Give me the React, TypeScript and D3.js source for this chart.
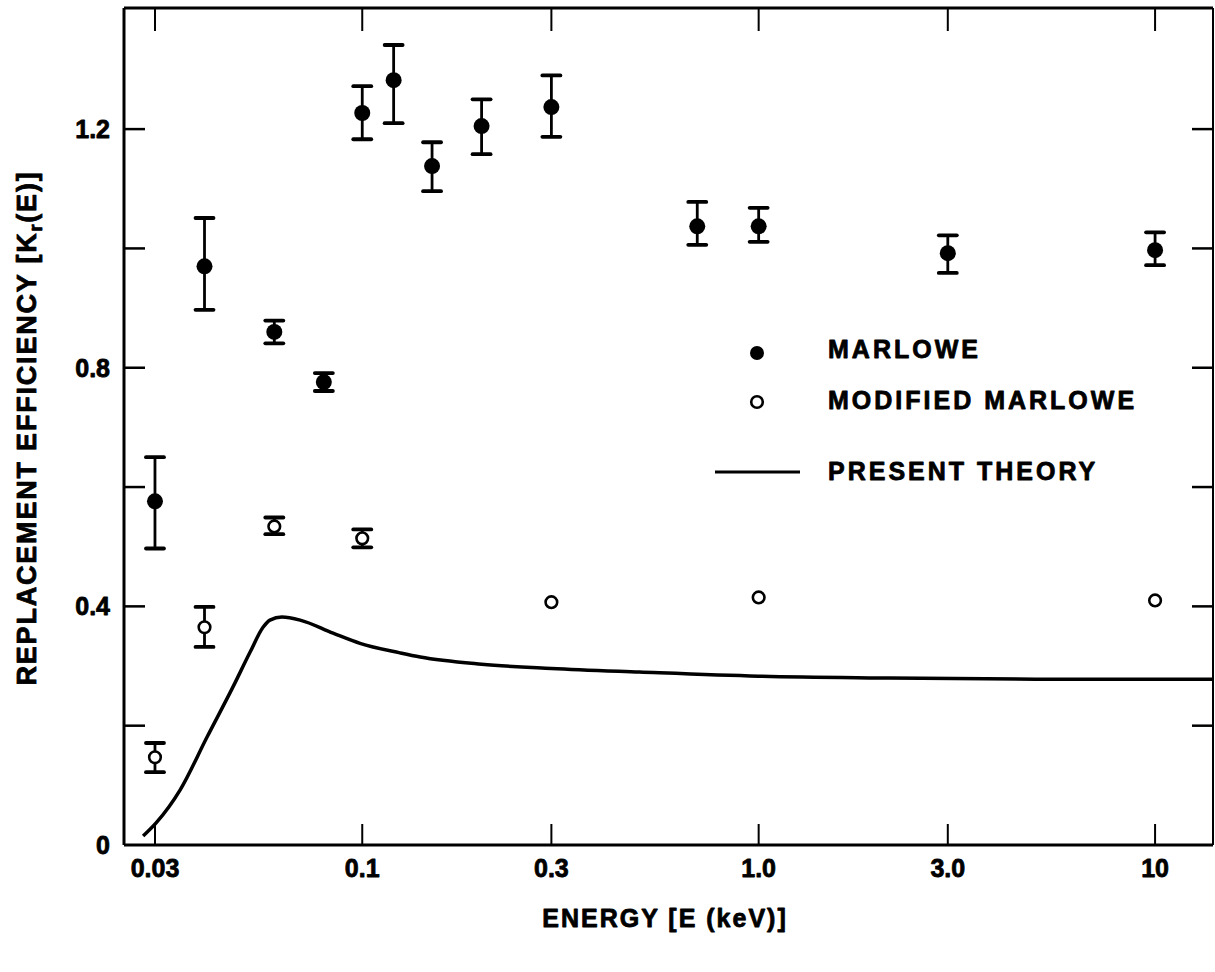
import React from "react";
import * as d3 from "d3";

// Canvas and plot frame
const W = 1215;
const H = 972;
const plot = { left: 124, right: 1213, top: 8, bottom: 845 };

// Axis domains (log energy, linear efficiency)
const energyDomain = [0.02506, 14.0];
const effDomain = [0, 1.403];

// Ticks
const energyTicks = [0.03, 0.1, 0.3, 1.0, 3.0, 10];
const energyTickLabels = ["0.03", "0.1", "0.3", "1.0", "3.0", "10"];
const effTicks = [0, 0.2, 0.4, 0.6, 0.8, 1.0, 1.2];
const effTickLabels = ["0", "", "0.4", "", "0.8", "", "1.2"];

// MARLOWE results with error-bar limits
const marloweEnergy = [0.03, 0.04, 0.06, 0.08, 0.1, 0.12, 0.15, 0.2, 0.3, 0.7, 1.0, 3.0, 10];
const marloweValue = [0.576, 0.97, 0.86, 0.776, 1.227, 1.282, 1.138, 1.205, 1.237, 1.037, 1.037, 0.992, 0.997];
const marloweUpper = [0.65, 1.051, 0.879, 0.791, 1.272, 1.341, 1.178, 1.25, 1.29, 1.078, 1.068, 1.022, 1.027];
const marloweLower = [0.497, 0.897, 0.841, 0.761, 1.183, 1.21, 1.096, 1.158, 1.187, 1.006, 1.011, 0.959, 0.972];

// Modified MARLOWE results (error bars only where given)
const modifiedEnergy = [0.03, 0.04, 0.06, 0.1, 0.3, 1.0, 10];
const modifiedValue = [0.147, 0.365, 0.534, 0.514, 0.407, 0.415, 0.41];
const modifiedUpper: (number | null)[] = [0.171, 0.399, 0.549, 0.529, null, null, null];
const modifiedLower: (number | null)[] = [0.122, 0.332, 0.521, 0.499, null, null, null];

// Present theory curve
const theoryEnergy = [0.028, 0.0302, 0.0347, 0.0406, 0.0472, 0.0521, 0.0562, 0.0585, 0.0627, 0.0697, 0.0844, 0.0987, 0.1245, 0.14, 0.2, 0.3, 0.5, 1.0, 2.0, 5.0, 10, 14.0];
const theoryValue = [0.015, 0.037, 0.092, 0.181, 0.265, 0.323, 0.365, 0.377, 0.382, 0.377, 0.355, 0.338, 0.322, 0.315, 0.303, 0.296, 0.29, 0.283, 0.28, 0.278, 0.278, 0.278];

const FONT = "'Liberation Sans', Arial, Helvetica, sans-serif";

export default function App() {
  const x = d3.scaleLog().domain(energyDomain).range([plot.left, plot.right]);
  const y = d3.scaleLinear().domain(effDomain).range([plot.bottom, plot.top]);

  const theory = theoryEnergy.map((e, i) => [x(e), y(theoryValue[i])] as [number, number]);
  const line = d3.line().curve(d3.curveMonotoneX)(theory) || "";

  const capHalf = 9;
  const tickLen = 21;

  const errorBar = (e: number, lo: number, hi: number, key: string) => {
    const cx = x(e);
    return (
      <g key={key}>
        <line x1={cx} x2={cx} y1={y(hi)} y2={y(lo)} stroke="#000" strokeWidth={2.8} />
        <line x1={cx - capHalf} x2={cx + capHalf} y1={y(hi)} y2={y(hi)} stroke="#000" strokeWidth={3.8} strokeLinecap="round" />
        <line x1={cx - capHalf} x2={cx + capHalf} y1={y(lo)} y2={y(lo)} stroke="#000" strokeWidth={3.8} strokeLinecap="round" />
      </g>
    );
  };

  return (
    <svg
      width={W}
      height={H}
      viewBox={`0 0 ${W} ${H}`}
      style={{ position: "absolute", left: 0, top: 0, display: "block", background: "#fff" }}
      fontFamily={FONT}
      fontWeight="bold"
    >
      <rect x={0} y={0} width={W} height={H} fill="#fff" />

      {/* Frame */}
      <line x1={plot.left} x2={plot.right} y1={plot.top} y2={plot.top} stroke="#000" strokeWidth={3} />
      <line x1={plot.left} x2={plot.right} y1={plot.bottom} y2={plot.bottom} stroke="#000" strokeWidth={3} />
      <line x1={plot.left} x2={plot.left} y1={plot.top} y2={plot.bottom} stroke="#000" strokeWidth={3} />
      <line x1={plot.right} x2={plot.right} y1={plot.top} y2={plot.bottom} stroke="#000" strokeWidth={2} />

      <g fill="#000" stroke="#000" strokeWidth={0.8} strokeLinejoin="round">
        {/* Energy tick labels */}
        {energyTicks.map((t, i) => (
          <text key={`el${i}`} x={x(t)} y={877} textAnchor="middle" fontSize={25}>
            {energyTickLabels[i]}
          </text>
        ))}
        {/* Efficiency tick labels */}
        {effTicks.map((t, i) =>
          effTickLabels[i] ? (
            <text key={`yl${i}`} x={110} y={y(t)} dy="0.36em" textAnchor="end" fontSize={25}>
              {effTickLabels[i]}
            </text>
          ) : null
        )}

        {/* Axis titles */}
        <text x={665} y={927} textAnchor="middle" fontSize={25} letterSpacing={2}>
          ENERGY [E (keV)]
        </text>
        <text transform={`translate(36, 428) rotate(-90)`} textAnchor="middle" fontSize={27} letterSpacing={1.8}>
          REPLACEMENT EFFICIENCY [K
          <tspan fontSize={18} dy={6}>r</tspan>
          <tspan dy={-6}>(E)]</tspan>
        </text>

        {/* Legend labels */}
        <g fontSize={25} letterSpacing={3}>
          <text x={828} y={358}>MARLOWE</text>
          <text x={828} y={409}>MODIFIED MARLOWE</text>
          <text x={828} y={480}>PRESENT THEORY</text>
        </g>
      </g>

      {/* Energy ticks, bottom and top */}
      {energyTicks.map((t, i) => (
        <g key={`et${i}`}>
          <line x1={x(t)} x2={x(t)} y1={plot.bottom} y2={plot.bottom - tickLen} stroke="#000" strokeWidth={2} />
          <line x1={x(t)} x2={x(t)} y1={plot.top} y2={plot.top + tickLen + 2} stroke="#000" strokeWidth={2} />
        </g>
      ))}

      {/* Efficiency ticks, left and right */}
      {effTicks.map((t, i) =>
        t > 0 ? (
          <g key={`yt${i}`}>
            <line x1={plot.left} x2={plot.left + tickLen} y1={y(t)} y2={y(t)} stroke="#000" strokeWidth={2.5} />
            <line x1={plot.right} x2={plot.right - tickLen} y1={y(t)} y2={y(t)} stroke="#000" strokeWidth={2.5} />
          </g>
        ) : null
      )}

      {/* Present theory */}
      <path d={line} fill="none" stroke="#000" strokeWidth={3.5} strokeLinejoin="round" />

      {/* Modified MARLOWE */}
      {modifiedEnergy.map((e, i) =>
        modifiedUpper[i] != null && modifiedLower[i] != null
          ? errorBar(e, modifiedLower[i] as number, modifiedUpper[i] as number, `me${i}`)
          : null
      )}
      {modifiedEnergy.map((e, i) => (
        <circle key={`mc${i}`} cx={x(e)} cy={y(modifiedValue[i])} r={5.8} fill="#fff" stroke="#000" strokeWidth={2.6} />
      ))}

      {/* MARLOWE */}
      {marloweEnergy.map((e, i) => errorBar(e, marloweLower[i], marloweUpper[i], `fe${i}`))}
      {marloweEnergy.map((e, i) => (
        <circle key={`fc${i}`} cx={x(e)} cy={y(marloweValue[i])} r={8} fill="#000" />
      ))}

      {/* Legend symbols */}
      <circle cx={757} cy={353} r={7} fill="#000" />
      <circle cx={757} cy={402} r={5.8} fill="#fff" stroke="#000" strokeWidth={2.6} />
      <line x1={715} x2={800} y1={472} y2={472} stroke="#000" strokeWidth={3} />
    </svg>
  );
}
